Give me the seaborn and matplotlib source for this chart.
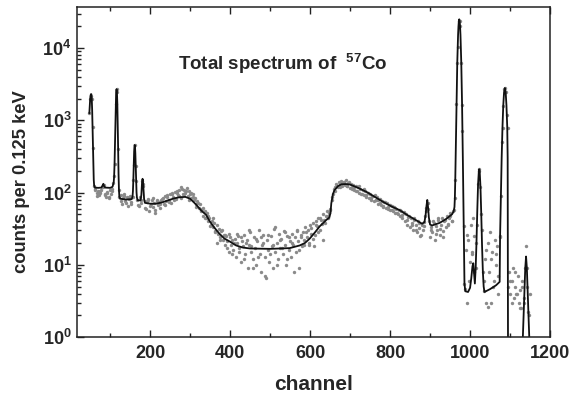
import matplotlib
matplotlib.use('Agg')
from matplotlib import pyplot as plt
from matplotlib.ticker import MultipleLocator, LogLocator, FuncFormatter, NullFormatter
import seaborn as sns
import numpy as np

# fitted curve: channel / counts
line_ch = [48, 49, 50, 51, 52, 53, 54, 55, 56, 57, 58, 59, 60, 62, 70, 78, 81, 83, 85, 88,
           100, 106, 109, 110, 111, 112, 113, 114, 115, 116, 117, 118, 119, 120, 121, 122, 123, 125, 140, 154,
           156, 157, 158, 159, 160, 161, 162, 163, 164, 165, 166, 167, 169, 176, 178, 179, 180, 181, 182, 183,
           184, 185, 187, 200, 215, 230, 245, 260, 273, 288, 300, 314, 327, 340, 349, 360, 373, 386, 399, 415,
           432, 450, 500, 549, 574, 587, 599, 612, 624, 641, 648, 651, 653, 657, 661, 670, 678, 690, 700, 720,
           741, 762, 783, 804, 824, 845, 866, 880, 886, 889, 891, 893, 895, 897, 900, 905, 924, 940, 955, 959,
           961, 962, 963, 964, 965, 966, 967, 968, 969, 970, 971, 972, 973, 974, 975, 976, 977, 978, 979, 980,
           981, 982, 983, 984, 985, 986, 988, 995, 1000, 1003, 1006, 1008, 1010, 1012, 1014, 1016, 1018, 1020, 1022, 1023,
           1024, 1026, 1028, 1030, 1032, 1034, 1036, 1050, 1065, 1074, 1075, 1077, 1079, 1081, 1083, 1085, 1087, 1089, 1091, 1093,
           1094, 1095, 1130, 1132, 1135, 1138, 1140, 1142, 1145, 1148, 1150]
line_ct = [1250, 1600, 1950, 2200, 2300, 2300, 2000, 1400, 800, 420, 230, 150, 125, 117, 116, 117, 125, 132, 122, 117,
           116, 120, 140, 170, 250, 450, 950, 1700, 2450, 2700, 2450, 1700, 900, 400, 180, 110, 88, 82, 80, 81,
           88, 105, 150, 240, 370, 455, 450, 350, 230, 145, 100, 85, 78, 78, 92, 118, 145, 155, 148, 122,
           96, 80, 72, 70, 70, 73, 78, 83, 86, 87, 82, 69, 57, 49, 40, 33, 27, 23, 21, 18.5,
           17.3, 16.8, 16.6, 17, 18.5, 20, 23, 28, 34, 42, 45, 52, 71, 95, 108, 123, 130, 131, 129, 116,
           102, 87, 74, 64, 57, 48, 41, 37, 39, 50, 65, 79, 62, 45, 36, 35, 38, 43, 50, 55,
           63, 85, 150, 330, 770, 1700, 3400, 6300, 10300, 15200, 20000, 23700, 25000, 23700, 20000, 15200, 10300, 6300, 3400, 1650,
           720, 280, 100, 34, 12, 5.5, 4.3, 4.2, 4.8, 6.5, 9.5, 10.5, 7.5, 5.5, 9, 20, 55, 130, 200, 210,
           200, 120, 50, 18, 8, 5, 4.2, 4.6, 5.2, 5.8, 24, 89, 300, 790, 1600, 2450, 2800, 2450, 1600, 790,
           300, 0.3, 0.3, 1.0, 3, 9, 13, 9, 3, 1.0, 0.3]

# measured points, every third channel from 48
pts_ch = np.arange(48, 1150, 3)
pts_ct = [1250, 2200, 2000, 420, 125, 110, 98, 105, 92, 100,
          108, 118, 128, 95, 88, 102, 85, 110, 96, 112,
          135, 250, 1700, 2450, 400, 88, 92, 70, 84, 95,
          76, 88, 66, 82, 90, 74, 88, 240, 450, 145,
          80, 65, 86, 78, 145, 122, 76, 60, 74, 82,
          55, 70, 78, 64, 72, 58, 80, 68, 75, 62,
          78, 85, 70, 90, 76, 92, 80, 95, 72, 98,
          88, 102, 82, 105, 92, 110, 85, 112, 96, 108,
          100, 115, 90, 105, 95, 84, 96, 78, 85, 70,
          76, 62, 70, 55, 60, 48, 56, 45, 52, 40,
          45, 36, 40, 33, 38, 29, 20, 27, 31, 24,
          29, 22, 26, 19, 25, 21, 15, 24, 19, 22,
          16, 23, 13, 20, 25, 17, 11, 21, 18, 26,
          14, 22, 9, 19, 28, 15, 12, 24, 17, 10,
          21, 30, 14, 8, 19, 26, 13, 6.5, 22, 16,
          11, 25, 18, 9, 31, 15, 20, 12, 27, 17,
          23, 14, 29, 19, 10, 25, 16, 21, 13, 27,
          19, 24, 15, 30, 21, 9, 26, 18, 28, 22,
          33, 24, 30, 20, 35, 27, 38, 18, 26, 40,
          34, 44, 30, 42, 37, 50, 41, 47, 55, 48,
          52, 58, 80, 96, 112, 120, 132, 118, 140, 128,
          145, 122, 138, 128, 150, 125, 135, 115, 132, 120,
          128, 110, 122, 104, 118, 100, 112, 96, 108, 92,
          104, 88, 98, 84, 96, 80, 90, 76, 92, 78,
          86, 70, 82, 68, 77, 64, 74, 62, 72, 60,
          68, 58, 66, 55, 63, 52, 60, 50, 58, 47,
          55, 44, 52, 40, 50, 36, 46, 33, 44, 38,
          30, 42, 35, 28, 40, 32, 25, 36, 30, 39,
          48, 62, 72, 40, 24, 33, 28, 38, 22, 34,
          30, 42, 26, 36, 45, 29, 40, 33, 48, 37,
          44, 52, 40, 55, 58, 150, 1700, 10300, 23700, 20000,
          6300, 720, 34, 4.6, 16, 3, 22, 11, 35, 15,
          45, 8, 9, 35, 130, 210, 120, 30, 8, 4.3,
          12, 3, 20, 8, 28, 3, 15, 6, 22, 10,
          18, 7, 25, 89, 500, 1600, 2700, 2450, 1200, 5,
          8, 4, 6, 9, 3.5, 5, 4, 7, 3, 4.5,
          2.5, 6, 3, 9, 18, 5, 2.2, 4]

# more measured points, every sixth channel from 50
pts2_ch = np.arange(50, 1150, 6)
pts2_ct = [1950, 800, 112, 90, 104, 120, 93, 100, 88, 106,
           170, 2700, 110, 76, 90, 72, 86, 70, 150, 230,
           68, 72, 130, 62, 80, 66, 84, 52, 76, 70,
           82, 68, 88, 74, 96, 80, 100, 90, 118, 95,
           104, 80, 100, 88, 64, 72, 58, 62, 44, 48,
           34, 44, 28, 36, 22, 30, 26, 17, 27, 14,
           20, 27, 15, 24, 12, 20, 30, 18, 9, 23,
           13, 24, 20, 7, 26, 14, 19, 33, 10, 22,
           17, 28, 12, 24, 20, 8, 29, 16, 24, 19,
           28, 19, 32, 23, 36, 28, 44, 22, 38, 45,
           60, 88, 105, 125, 118, 135, 142, 124, 138, 112,
           118, 104, 125, 95, 112, 92, 100, 85, 90, 80,
           80, 72, 66, 75, 64, 68, 58, 62, 52, 58,
           49, 54, 42, 48, 36, 44, 30, 38, 26, 34,
           55, 60, 30, 40, 27, 45, 31, 24, 42, 35,
           47, 40, 85, 6300, 23700, 1650, 5.5, 26, 6, 14,
           25, 20, 200, 50, 6, 16, 2.6, 12, 5, 14,
           4, 24, 790, 2800, 790, 6, 3, 8, 4, 2.5,
           5, 3.5, 9, 2]

sns.set_style('ticks')
plt.rcParams['font.family'] = ['Liberation Sans', 'DejaVu Sans']
plt.rcParams['font.weight'] = 'bold'
plt.rcParams['mathtext.fontset'] = 'custom'
plt.rcParams['mathtext.rm'] = 'Liberation Sans:bold'
plt.rcParams['mathtext.bf'] = 'Liberation Sans:bold'

fig = plt.figure(figsize=(5.7, 4.0), dpi=100)
ax = fig.add_axes([0.135, 0.1575, 0.83, 0.825])

sns.lineplot(x=line_ch, y=line_ct, color='#111111', lw=1.3, estimator=None, ax=ax)
sns.scatterplot(x=pts_ch, y=pts_ct, color='#8a8a8a', s=6, linewidth=0, ax=ax)
sns.scatterplot(x=pts2_ch, y=pts2_ct, color='#8a8a8a', s=6, linewidth=0, ax=ax)

ax.set_yscale('log')
ax.set_ylim(1, 3.7e4)
ax.set_xlim(17, 1200)

ax.xaxis.set_major_locator(MultipleLocator(200))
ax.xaxis.set_minor_locator(MultipleLocator(100))
ax.yaxis.set_major_locator(LogLocator(base=10, numticks=10))
ax.yaxis.set_minor_locator(LogLocator(base=10, subs=np.arange(2, 10), numticks=10))
ax.yaxis.set_major_formatter(FuncFormatter(lambda v, p: r'$\mathbf{10^{%d}}$' % round(np.log10(v))))
ax.yaxis.set_minor_formatter(NullFormatter())
ax.xaxis.set_major_formatter(FuncFormatter(lambda v, p: '%d' % v))

ax.tick_params(which='both', direction='in', top=True, right=False, width=1, color='#222222')
ax.tick_params(which='major', length=5)
ax.tick_params(which='minor', length=3)
ax.tick_params(axis='x', which='major', labelsize=13, pad=6)
ax.tick_params(axis='y', which='major', labelsize=13, pad=4)
for s in ax.spines.values():
    s.set_linewidth(1.1)
    s.set_color('#222222')

ax.set_xlabel('channel', fontsize=15, fontweight='bold')
ax.set_ylabel('counts per 0.125 keV', fontsize=13.2, fontweight='bold')
ax.xaxis.set_label_coords(0.5, -0.115)
ax.yaxis.set_label_coords(-0.10, 0.471)

ax.text(0.213, 0.83, r'Total spectrum of  $^{\mathbf{57}}$Co', transform=ax.transAxes,
        fontsize=13.5, fontweight='bold', ha='left', va='center')

plt.savefig('out.png', dpi=100)
